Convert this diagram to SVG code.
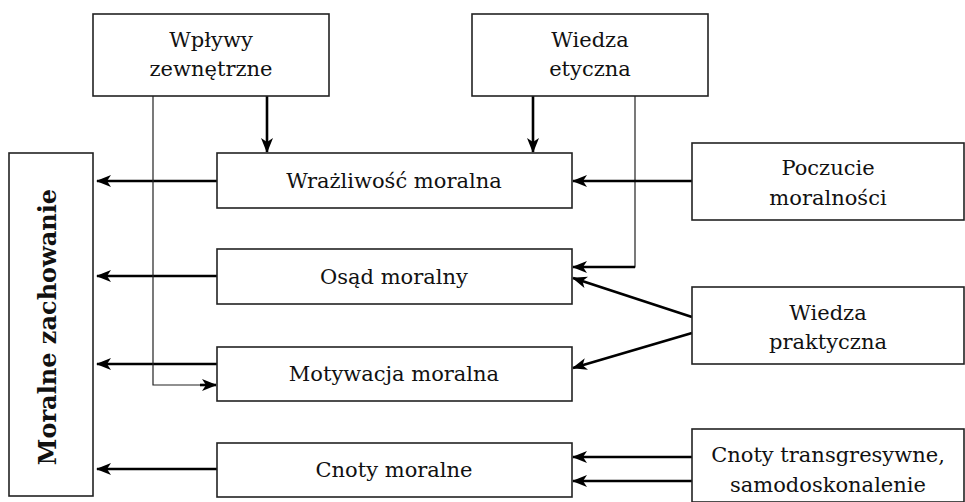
<svg xmlns="http://www.w3.org/2000/svg" width="965" height="502" viewBox="0 0 965 502">
<style>
.box{fill:#fff;stroke:#222;stroke-width:1.6}
.t{font-family:"DejaVu Serif","Liberation Serif",serif;font-size:21px;fill:#111;text-anchor:middle}
.b{font-weight:bold;font-size:24px}
.thick{fill:none;stroke:#000;stroke-width:2.6}
.thin{fill:none;stroke:#222;stroke-width:1.2}
</style>
<defs>
<marker id="ah" viewBox="0 0 15 12" refX="14" refY="6" markerWidth="15" markerHeight="12" markerUnits="userSpaceOnUse" orient="auto">
<path d="M0,0 L15,6 L0,12 L4,6 z" fill="#000"/>
</marker>
</defs>
<rect width="965" height="502" fill="#fff"/>
<g id="connectors">
<line class="thick" x1="217" y1="181" x2="97" y2="181" marker-end="url(#ah)"/>
<line class="thick" x1="217" y1="276" x2="97" y2="276" marker-end="url(#ah)"/>
<line class="thick" x1="217" y1="364" x2="97" y2="364" marker-end="url(#ah)"/>
<line class="thick" x1="217" y1="469" x2="97" y2="469" marker-end="url(#ah)"/>
<line class="thick" x1="267" y1="96" x2="267" y2="152" marker-end="url(#ah)"/>
<line class="thick" x1="533" y1="96" x2="533" y2="152" marker-end="url(#ah)"/>
<polyline class="thin" points="153,96 153,385 204,385"/>
<line class="thick" x1="200" y1="385" x2="216" y2="385" marker-end="url(#ah)"/>
<polyline class="thin" points="635,96 635,267 585,267"/>
<line class="thick" x1="635" y1="267" x2="573" y2="267" marker-end="url(#ah)"/>
<line class="thick" x1="692" y1="181" x2="573" y2="181" marker-end="url(#ah)"/>
<line class="thick" x1="692" y1="317" x2="573" y2="278" marker-end="url(#ah)"/>
<line class="thick" x1="692" y1="333" x2="573" y2="368" marker-end="url(#ah)"/>
<line class="thick" x1="692" y1="457" x2="573" y2="457" marker-end="url(#ah)"/>
<line class="thick" x1="692" y1="481" x2="573" y2="481" marker-end="url(#ah)"/>
</g>
<g id="wplywy"><rect class="box" x="93" y="14" width="236" height="82"/><text class="t" x="211" y="47">Wpływy</text><text class="t" x="211" y="76">zewnętrzne</text></g>
<g id="wiedza-etyczna"><rect class="box" x="472" y="14" width="236" height="82"/><text class="t" x="590" y="47">Wiedza</text><text class="t" x="590" y="76">etyczna</text></g>
<g id="moralne-zachowanie"><rect class="box" x="9" y="153" width="84" height="343"/><text class="t b" transform="translate(56,327) rotate(-90)">Moralne zachowanie</text></g>
<g id="wrazliwosc"><rect class="box" x="217" y="153" width="355" height="55"/><text class="t" x="394" y="188">Wrażliwość moralna</text></g>
<g id="osad"><rect class="box" x="217" y="249" width="355" height="55"/><text class="t" x="394" y="284">Osąd moralny</text></g>
<g id="motywacja"><rect class="box" x="217" y="347" width="355" height="54"/><text class="t" x="394" y="381">Motywacja moralna</text></g>
<g id="cnoty"><rect class="box" x="217" y="443" width="355" height="54"/><text class="t" x="394" y="477">Cnoty moralne</text></g>
<g id="poczucie"><rect class="box" x="692" y="143" width="272" height="77"/><text class="t" x="828" y="175">Poczucie</text><text class="t" x="828" y="205">moralności</text></g>
<g id="wiedza-praktyczna"><rect class="box" x="692" y="287" width="272" height="77"/><text class="t" x="828" y="320">Wiedza</text><text class="t" x="828" y="349">praktyczna</text></g>
<g id="cnoty-transgresywne"><rect class="box" x="692" y="429" width="272" height="73"/><text class="t" x="828" y="462">Cnoty transgresywne,</text><text class="t" x="828" y="492">samodoskonalenie</text></g>
</svg>
